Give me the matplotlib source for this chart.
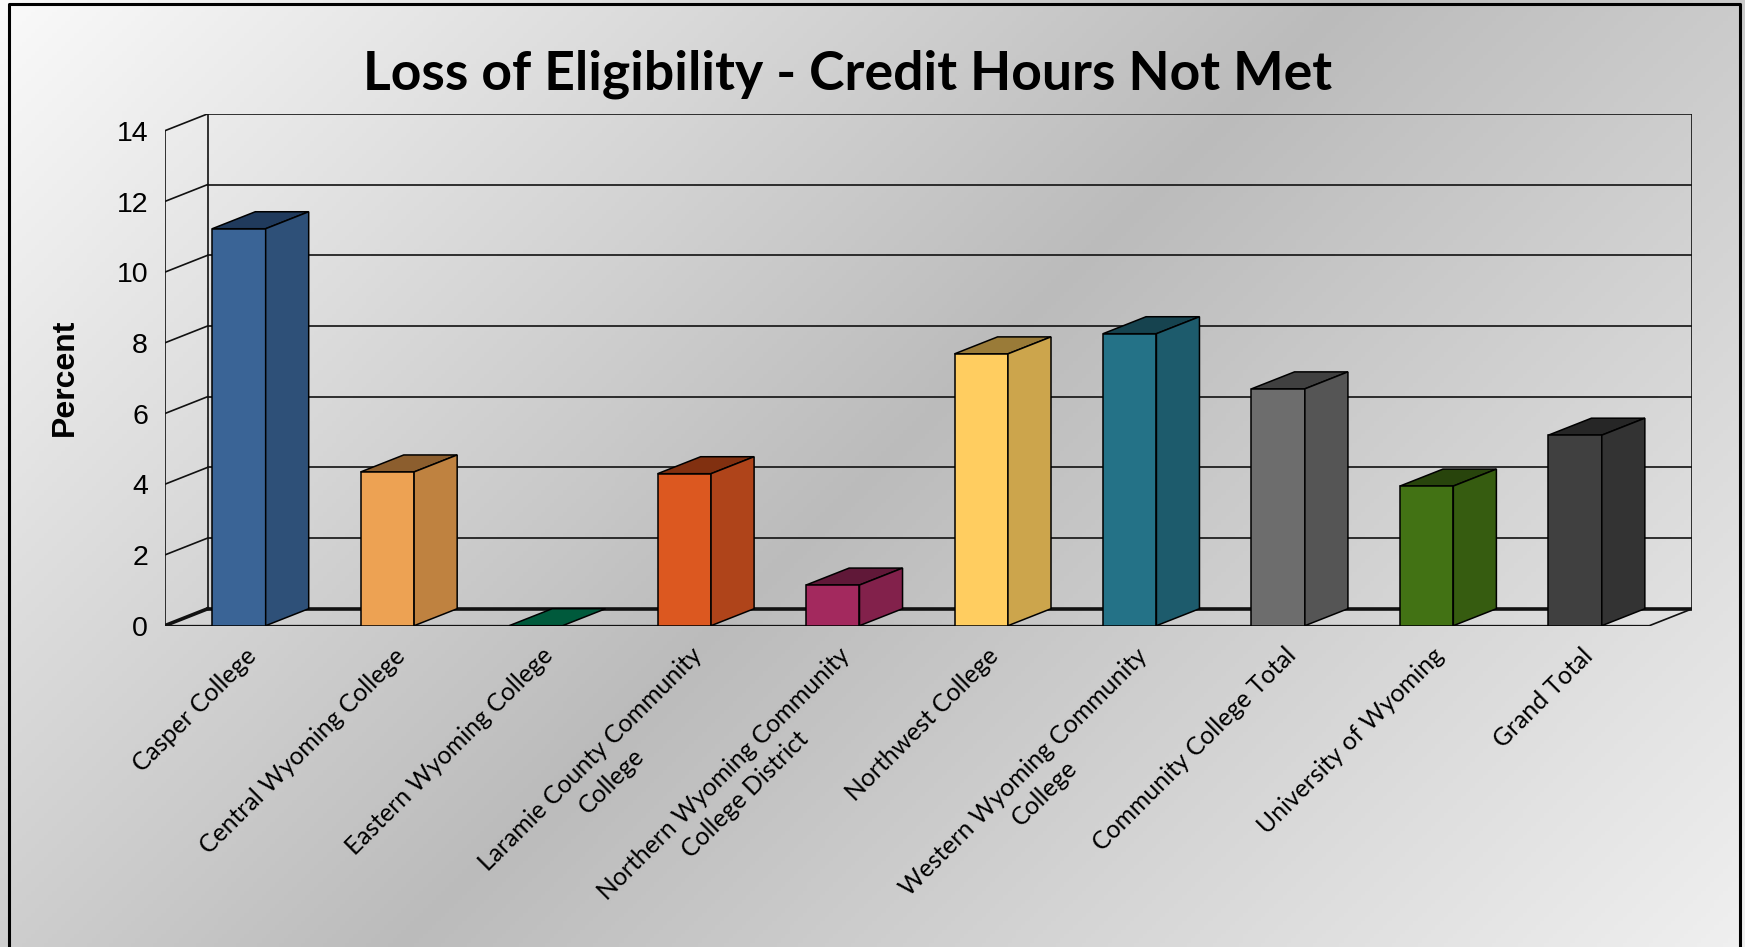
import numpy as np
import matplotlib
matplotlib.use('Agg')
import matplotlib.pyplot as plt
from matplotlib.patches import Polygon

# data
colleges = ['Casper College', 'Central Wyoming College', 'Eastern Wyoming College',
            'Laramie County Community\nCollege',
            'Northern Wyoming Community\nCollege District',
            'Northwest College', 'Western Wyoming Community\nCollege',
            'Community College Total', 'University of Wyoming', 'Grand Total']
percent = [11.23, 4.35, 0.0, 4.30, 1.15, 7.69, 8.26, 6.70, 3.95, 5.39]
y_ticks = [0, 2, 4, 6, 8, 10, 12, 14]

front_colors = ['#3a6496', '#eda253', '#005a3c', '#dc5820', '#a3295e',
                '#ffcd60', '#247287', '#6d6d6d', '#427214', '#404040']
side_colors = ['#2e5078', '#bf8240', '#004830', '#af441a', '#82214b',
               '#cca54c', '#1d5b6c', '#555555', '#365c10', '#333333']
top_colors = ['#203a5c', '#8c5e2e', '#005a3c', '#813010', '#601838',
              '#9a7b38', '#16434f', '#404040', '#28440c', '#262626']

W, H = 1745, 947
DX, DY = 0.29, 0.48          # fake depth, in category / value units
BAR_W = 0.36
UNIT_X, UNIT_Y = 148.46, 35.35
X0, Y0 = 164.7, 625.7         # front axis origin in pixels

fig = plt.figure(figsize=(W / 100, H / 100), dpi=100)

# gradient background for the whole chart area
bg = fig.add_axes([0, 0, 1, 1])
bg.axis('off')
xs = np.linspace(0, W, 400)
ys = np.linspace(0, H, 220)
X, Y = np.meshgrid(xs, ys)
t = (X + Y) / (W + H)
shade = np.interp(t, [0, 0.5, 1], [0.98, 0.735, 0.94])
bg.imshow(np.dstack([shade] * 3), extent=(0, 1, 0, 1), aspect='auto', origin='upper')
bg.set_xlim(0, 1)
bg.set_ylim(0, 1)
bg.plot([9 / W, 9 / W, 1740 / W, 1740 / W], [0, 1 - 4 / H, 1 - 4 / H, 0],
        color='black', lw=2.2)

ax = fig.add_axes([X0 / W, (H - Y0) / H,
                   (10 + DX) * UNIT_X / W, (14 + DY) * UNIT_Y / H])
ax.set_xlim(-0.5, 9.5 + DX)
ax.set_ylim(0, 14 + DY)
ax.patch.set_alpha(0)
for s in ax.spines.values():
    s.set_visible(False)
ax.set_xticks([])
ax.set_yticks(y_ticks)
ax.set_yticklabels([str(v) for v in y_ticks])
ax.tick_params(axis='y', length=0, pad=12, labelsize=20.5)
for lbl in ax.get_yticklabels():
    lbl.set_fontfamily('Liberation Sans')

left, right = -0.5, 9.5
# walls and gridlines
for v in y_ticks:
    lw = 2.6 if v == 0 else 1.2
    ax.plot([left + DX, right + DX], [v + DY, v + DY], color='#111111', lw=lw, zorder=2)
    ax.plot([left, left + DX], [v, v + DY], color='#111111', lw=lw, zorder=2)
ax.plot([left, left], [0, 14], color='#111111', lw=1.2, zorder=2)
ax.plot([left + DX, left + DX], [DY, 14 + DY], color='#111111', lw=1.2, zorder=2)
ax.plot([right + DX, right + DX], [DY, 14 + DY], color='#111111', lw=1.2, zorder=2)
ax.plot([left, right, right + DX], [0, 0, DY], color='#111111', lw=1.2, zorder=2)

# bars
for i, v in enumerate(percent):
    l, r = i - BAR_W / 2, i + BAR_W / 2
    top = Polygon([(l, v), (r, v), (r + DX, v + DY), (l + DX, v + DY)],
                  closed=True, facecolor=top_colors[i], edgecolor='black', lw=1.1, zorder=3)
    ax.add_patch(top)
    if v > 0:
        front = Polygon([(l, 0), (r, 0), (r, v), (l, v)], closed=True,
                        facecolor=front_colors[i], edgecolor='black', lw=1.1, zorder=3)
        side = Polygon([(r, 0), (r + DX, DY), (r + DX, v + DY), (r, v)], closed=True,
                       facecolor=side_colors[i], edgecolor='black', lw=1.1, zorder=3)
        ax.add_patch(front)
        ax.add_patch(side)

for i, name in enumerate(colleges):
    ax.annotate(name, xy=(i, 0), xycoords='data', xytext=(4, -13),
                textcoords='offset points', rotation=45, ha='right', va='top',
                rotation_mode='anchor', multialignment='center', fontsize=17.8,
                linespacing=1.35, family='Lato', annotation_clip=False)

fig.text(65 / W, 1 - 377 / H, 'Percent', rotation=90, ha='center', va='center',
         fontsize=23, fontweight='bold', family='Liberation Sans')
fig.text(848 / W, 1 - 89.3 / H, 'Loss of Eligibility - Credit Hours Not Met',
         ha='center', va='baseline', fontsize=38.5, fontweight='bold', family='Lato')

fig.savefig('out.png', dpi=100)
